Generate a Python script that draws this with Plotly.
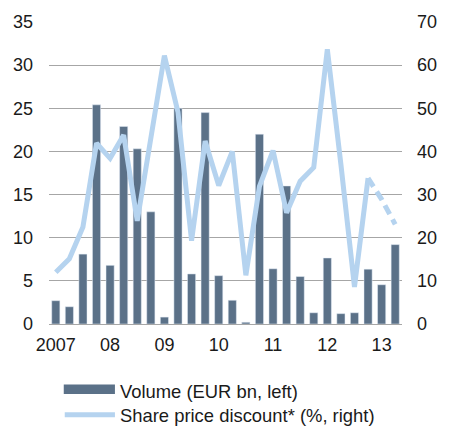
import plotly.graph_objects as go

quarters = [f"{y}Q{q}" for y in range(2007, 2014) for q in range(1, 5)][:26]
volume = [2.7, 2.0, 8.1, 25.4, 6.8, 22.9, 20.3, 13.0, 0.8, 25.0, 5.8, 24.5, 5.6,
          2.75, 0.2, 22.0, 6.4, 16.0, 5.5, 1.3, 7.65, 1.2, 1.3, 6.35, 4.55, 9.2]
discount = [12.0, 15.1, 22.5, 41.9, 38.4, 43.8, 23.9, 42.3, 62.2, 49.1, 19.3, 42.4, 32.1,
            40.0, 11.3, 31.9, 40.2, 25.8, 33.1, 36.3, 63.7, 37.0, 8.6, 33.8, 28.9, 23.1]
tick_cats = ["2007Q1", "2008Q1", "2009Q1", "2010Q1", "2011Q1", "2012Q1", "2013Q1"]
tick_text = ["2007", "08", "09", "10", "11", "12", "13"]
legend_names = ["Volume (EUR bn, left)", "Share price discount* (%, right)"]

BAR = "#5b7188"
LINE = "#b5d3ef"
FONT = dict(family="Liberation Sans, Arial, sans-serif", size=18, color="#1a1a1a")
LEG_FONT = dict(family="Liberation Sans, Arial, sans-serif", size=18.4, color="#1a1a1a")

n_solid = 24
fig = go.Figure()
fig.add_trace(go.Bar(x=quarters, y=volume, marker_color=BAR, name=legend_names[0],
                     yaxis="y", showlegend=False))
fig.add_trace(go.Scatter(x=quarters[:n_solid], y=discount[:n_solid], mode="lines",
                         line=dict(color=LINE, width=5), yaxis="y2", showlegend=False,
                         name=legend_names[1]))
fig.add_trace(go.Scatter(x=quarters[n_solid - 1:], y=discount[n_solid - 1:], mode="lines",
                         line=dict(color=LINE, width=5, dash="10px,6px"), yaxis="y2",
                         showlegend=False, name=legend_names[1]))

ph = 304.5
def py(Y):
    return (324 - Y) / ph
pw = 358.7
def px(X):
    return (X - 49) / pw

shapes = [
    dict(type="rect", xref="paper", yref="paper", x0=px(64), x1=px(116), y0=py(394.5), y1=py(385),
         fillcolor=BAR, line=dict(width=0)),
    dict(type="line", xref="paper", yref="paper", x0=px(65), x1=px(116), y0=py(415.5), y1=py(415.5),
         line=dict(color=LINE, width=5)),
]
annotations = [
    dict(xref="paper", yref="paper", x=px(119), y=py(392), text=legend_names[0], showarrow=False,
         xanchor="left", yanchor="middle", font=LEG_FONT),
    dict(xref="paper", yref="paper", x=px(119), y=py(416.5), text=legend_names[1], showarrow=False,
         xanchor="left", yanchor="middle", font=LEG_FONT),
]

fig.update_layout(
    width=449, height=427,
    margin=dict(l=49, r=41.3, t=19.5, b=103),
    paper_bgcolor="white", plot_bgcolor="white",
    font=FONT,
    bargap=0.4,
    showlegend=False,
    shapes=shapes,
    annotations=annotations,
    xaxis=dict(type="category", categoryorder="array", categoryarray=quarters,
               tickmode="array", tickvals=tick_cats, ticktext=tick_text,
               showgrid=False, showline=False, ticks="", ticklabelstandoff=8,
               range=[-0.5, 25.5], tickfont=FONT),
    yaxis=dict(range=[0, 35], dtick=5, showgrid=True, gridcolor="#a6a6a6", gridwidth=1,
               zeroline=True, zerolinecolor="#a6a6a6", zerolinewidth=1, showline=False,
               ticks="", ticklabelstandoff=15, tickfont=FONT),
    yaxis2=dict(range=[0, 70], dtick=10, overlaying="y", side="right", showgrid=False,
                zeroline=False, showline=False, ticks="", ticklabelstandoff=14, tickfont=FONT),
)

fig.write_html("out.html", config={"displayModeBar": False},
               post_script="document.body.style.margin='0';document.body.style.overflow='hidden';")
